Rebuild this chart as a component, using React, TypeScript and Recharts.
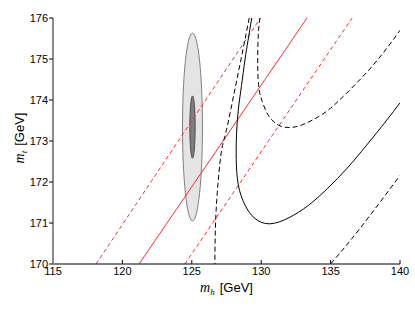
import React from 'react';
import { ComposedChart, Line, XAxis, YAxis, ReferenceArea, Label } from 'recharts';

const xTicks = [115, 120, 125, 130, 135, 140];
const yTicks = [170, 171, 172, 173, 174, 175, 176];

// red band: central line and the two dashed edges
const redCentral = [{ mh: 121.2, mt: 170 }, { mh: 133.3, mt: 176 }];
const redLower = [{ mh: 118.1, mt: 170 }, { mh: 129.95, mt: 176 }];
const redUpper = [{ mh: 124.5, mt: 170 }, { mh: 136.55, mt: 176 }];

// black contours in drawing order
const blackSolid = [
  { mh: 129.32, mt: 176 }, { mh: 129.05, mt: 175.45 }, { mh: 128.83, mt: 174.98 },
  { mh: 128.58, mt: 174.35 }, { mh: 128.35, mt: 173.76 }, { mh: 128.22, mt: 173.15 },
  { mh: 128.2, mt: 172.55 }, { mh: 128.35, mt: 171.93 }, { mh: 128.83, mt: 171.44 },
  { mh: 129.55, mt: 171.11 }, { mh: 130.63, mt: 170.98 }, { mh: 132.0, mt: 171.13 },
  { mh: 133.4, mt: 171.43 }, { mh: 134.8, mt: 171.85 }, { mh: 136.2, mt: 172.34 },
  { mh: 137.6, mt: 172.9 }, { mh: 139.0, mt: 173.49 }, { mh: 140, mt: 173.93 },
];
const blackDashLeft = [
  { mh: 129.14, mt: 176 }, { mh: 128.55, mt: 175 }, { mh: 127.95, mt: 174 },
  { mh: 127.45, mt: 173.2 }, { mh: 127.15, mt: 172.78 }, { mh: 126.91, mt: 172.05 },
  { mh: 126.72, mt: 171.07 }, { mh: 126.66, mt: 170 },
];
const blackDashUpper = [
  { mh: 129.91, mt: 176 }, { mh: 129.79, mt: 175.59 }, { mh: 129.75, mt: 174.85 },
  { mh: 129.84, mt: 174.28 }, { mh: 130.08, mt: 173.96 }, { mh: 130.51, mt: 173.63 },
  { mh: 131.23, mt: 173.39 }, { mh: 132.0, mt: 173.33 }, { mh: 132.92, mt: 173.39 },
  { mh: 134.11, mt: 173.59 }, { mh: 135.0, mt: 173.8 }, { mh: 135.8, mt: 174.05 },
  { mh: 137.12, mt: 174.5 }, { mh: 138.56, mt: 175.05 }, { mh: 140, mt: 175.7 },
];
const blackDashLower = [
  { mh: 135.0, mt: 170 }, { mh: 136.1, mt: 170.44 }, { mh: 137.12, mt: 170.87 },
  { mh: 138.5, mt: 171.48 }, { mh: 140, mt: 172.16 },
];

// measurement ellipses: centre and half-widths
const outerEllipse = { mh: 125.05, mt: 173.34, dmh: 0.72, dmt: 2.29 };
const innerEllipse = { mh: 125.05, mt: 173.34, dmh: 0.19, dmt: 0.76 };

const tickFont = { fill: '#000', fontSize: 11, fontFamily: 'Liberation Sans' };

const ellipseShape = (fill: string, stroke: string) => (p: any) => (
  <ellipse
    cx={p.x + p.width / 2}
    cy={p.y + p.height / 2}
    rx={Math.abs(p.width) / 2}
    ry={Math.abs(p.height) / 2}
    fill={fill}
    stroke={stroke}
    strokeWidth={1}
  />
);

const XLabel = (props: any) => {
  const vb = props.viewBox;
  return (
    <text x={vb.x + vb.width / 2} y={vb.y + 28} textAnchor="middle" fontSize={13} fontFamily="Liberation Sans" fill="#000">
      <tspan fontFamily="Liberation Serif" fontStyle="italic" fontSize={14}>m</tspan>
      <tspan fontFamily="Liberation Serif" fontStyle="italic" fontSize={9} dy={3}>h</tspan>
      <tspan dy={-3} dx={5}>[GeV]</tspan>
    </text>
  );
};

const YLabel = (props: any) => {
  const vb = props.viewBox;
  const cx = vb.x + 24;
  const cy = vb.y + vb.height / 2 - 3;
  return (
    <text x={cx} y={cy} transform={`rotate(-90 ${cx} ${cy})`} textAnchor="middle" fontSize={13} fontFamily="Liberation Sans" fill="#000">
      <tspan fontFamily="Liberation Serif" fontStyle="italic" fontSize={14}>m</tspan>
      <tspan fontFamily="Liberation Serif" fontStyle="italic" fontSize={9} dy={3}>t</tspan>
      <tspan dy={-3} dx={5}>[GeV]</tspan>
    </text>
  );
};

export default function App() {
  const common = { dataKey: 'mt', dot: false, activeDot: false, isAnimationActive: false, strokeWidth: 1 } as const;
  return (
    <div style={{ width: 415, height: 312 }}>
      <style>{`body{margin:0}`}</style>
      <ComposedChart width={415} height={312} margin={{ top: 18, right: 15, bottom: 0, left: 0 }}>
        <XAxis
          dataKey="mh" type="number" domain={[115, 140]} ticks={xTicks} allowDataOverflow
          height={48} tickSize={-4} tickMargin={7} tick={tickFont}
          axisLine={{ stroke: '#000' }} tickLine={{ stroke: '#000' }}
        >
          <Label content={XLabel} />
        </XAxis>
        <XAxis
          xAxisId="top" orientation="top" dataKey="mh" type="number" domain={[115, 140]} ticks={xTicks}
          height={0} tickSize={-3} tick={false} axisLine={{ stroke: '#000' }} tickLine={{ stroke: '#000' }}
        />
        <YAxis
          dataKey="mt" type="number" domain={[170, 176]} ticks={yTicks} allowDataOverflow
          width={53} tickSize={4} tickMargin={1} tick={tickFont}
          axisLine={{ stroke: '#8c8c8c', strokeWidth: 2 }} tickLine={{ stroke: '#000' }}
        >
          <Label content={YLabel} />
        </YAxis>
        <YAxis
          yAxisId="right" orientation="right" dataKey="mt" type="number" domain={[170, 176]} ticks={yTicks}
          width={0} tickSize={-3} tick={false} axisLine={{ stroke: '#000' }} tickLine={{ stroke: '#000' }}
        />
        <ReferenceArea
          x1={outerEllipse.mh - outerEllipse.dmh} x2={outerEllipse.mh + outerEllipse.dmh}
          y1={outerEllipse.mt - outerEllipse.dmt} y2={outerEllipse.mt + outerEllipse.dmt}
          shape={ellipseShape('#e4e4e4', '#808080')}
        />
        <ReferenceArea
          x1={innerEllipse.mh - innerEllipse.dmh} x2={innerEllipse.mh + innerEllipse.dmh}
          y1={innerEllipse.mt - innerEllipse.dmt} y2={innerEllipse.mt + innerEllipse.dmt}
          shape={ellipseShape('#7f7f7f', '#4d4d4d')}
        />
        <Line {...common} data={redLower} type="linear" stroke="#ff2a2a" strokeDasharray="4 3" />
        <Line {...common} data={redCentral} type="linear" stroke="#ff2a2a" />
        <Line {...common} data={redUpper} type="linear" stroke="#ff2a2a" strokeDasharray="4 3" />
        <Line {...common} data={blackDashLeft} type="natural" stroke="#000" strokeDasharray="5 3" />
        <Line {...common} data={blackSolid} type="natural" stroke="#000" />
        <Line {...common} data={blackDashUpper} type="natural" stroke="#000" strokeDasharray="5 3" />
        <Line {...common} data={blackDashLower} type="natural" stroke="#000" strokeDasharray="5 3" />
      </ComposedChart>
    </div>
  );
}
